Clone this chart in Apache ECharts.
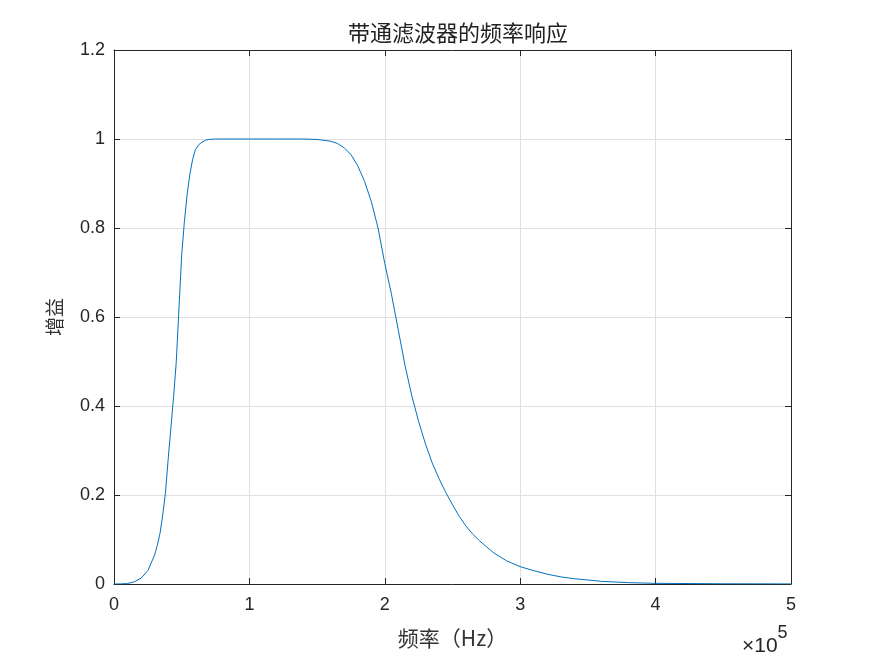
<!DOCTYPE html>
<html>
<head>
<meta charset="utf-8">
<script src="https://cdn.jsdelivr.net/npm/echarts@6/dist/echarts.min.js"></script>
<style>html,body{margin:0;padding:0;background:#fff;}#c{width:875px;height:656px;}</style>
</head>
<body>
<div id="c"></div>
<script>
// Frequency (units of 1e5 Hz) and gain
var freqs = [0, 0.05, 0.1, 0.15, 0.2, 0.25, 0.3, 0.32, 0.34, 0.36, 0.38, 0.4, 0.42, 0.44, 0.46, 0.48, 0.5, 0.52, 0.54, 0.56, 0.58, 0.6, 0.625, 0.65, 0.675, 0.7, 0.75, 0.8, 1.0, 1.2, 1.4, 1.5, 1.55, 1.6, 1.65, 1.7, 1.75, 1.8, 1.85, 1.9, 1.95, 2.0, 2.05, 2.1, 2.15, 2.2, 2.25, 2.3, 2.35, 2.4, 2.45, 2.5, 2.55, 2.6, 2.65, 2.7, 2.8, 2.9, 3.0, 3.1, 3.2, 3.3, 3.4, 3.6, 3.8, 4.0, 4.5, 5.0];
var gains = [0, 0.0002, 0.001, 0.005, 0.013, 0.03, 0.065, 0.087, 0.114, 0.155, 0.205, 0.28, 0.35, 0.42, 0.5, 0.62, 0.74, 0.815, 0.875, 0.92, 0.953, 0.975, 0.987, 0.993, 0.997, 0.999, 1.0, 1.0, 1.0, 1.0, 1.0, 0.999, 0.997, 0.995, 0.99, 0.98, 0.965, 0.94, 0.905, 0.86, 0.8, 0.72, 0.65, 0.57, 0.49, 0.422, 0.365, 0.315, 0.272, 0.237, 0.206, 0.178, 0.152, 0.13, 0.112, 0.097, 0.071, 0.052, 0.039, 0.03, 0.022, 0.016, 0.012, 0.006, 0.003, 0.0015, 0.0005, 0.0002];
var xTickValues = [0, 1, 2, 3, 4, 5];
var yTickValues = [0, 0.2, 0.4, 0.6, 0.8, 1, 1.2];
var titleText = '带通滤波器的频率响应';
var xName = '频率（Hz）';
var yName = '增益';

var scale = 1e5;
var data = freqs.map(function (f, i) { return [f * scale, gains[i]]; });

var chart = echarts.init(document.getElementById('c'));
var axisColor = '#262626';
var font = 'Liberation Sans, Arial, sans-serif';
var cjk = '"Noto Sans CJK SC", sans-serif';

chart.setOption({
  backgroundColor: '#ffffff',
  animation: false,
  title: {
    text: titleText,
    left: 453, top: 17, textAlign: 'center',
    textStyle: { fontFamily: cjk, fontSize: 22, fontWeight: 'normal', color: '#222' }
  },
  grid: { left: 114, right: 84, top: 50, bottom: 72, containLabel: false },
  xAxis: [{
    type: 'value', min: 0, max: 5 * scale, interval: scale,
    position: 'bottom',
    axisLine: { show: true, onZero: false, lineStyle: { color: axisColor, width: 1 } },
    axisTick: { show: true, inside: true, length: 6, lineStyle: { color: axisColor } },
    axisLabel: { color: axisColor, fontSize: 18, fontFamily: font, margin: 12,
      formatter: function (v) { return String(Math.round(v / scale)); } },
    splitLine: { show: true, lineStyle: { color: '#dfdfdf', width: 1 } },
    name: xName, nameLocation: 'middle', nameGap: 44,
    nameTextStyle: { fontFamily: cjk, fontSize: 21, color: '#333' }
  }, {
    type: 'value', min: 0, max: 5 * scale, interval: scale,
    position: 'top',
    axisLine: { show: true, onZero: false, lineStyle: { color: axisColor, width: 1 } },
    axisTick: { show: true, inside: true, length: 6, lineStyle: { color: axisColor } },
    axisLabel: { show: false }, splitLine: { show: false }
  }],
  yAxis: [{
    type: 'value', min: 0, max: 1.2, interval: 0.2,
    position: 'left',
    axisLine: { show: true, onZero: false, lineStyle: { color: axisColor, width: 1 } },
    axisTick: { show: true, inside: true, length: 6, lineStyle: { color: axisColor } },
    axisLabel: { color: axisColor, fontSize: 18, fontFamily: font, margin: 9,
      formatter: function (v) { return String(Math.round(v * 10) / 10); } },
    splitLine: { show: true, lineStyle: { color: '#dfdfdf', width: 1 } },
    name: yName, nameLocation: 'middle', nameGap: 50,
    nameTextStyle: { fontFamily: cjk, fontSize: 19, color: '#333' }
  }, {
    type: 'value', min: 0, max: 1.2, interval: 0.2,
    position: 'right',
    axisLine: { show: true, onZero: false, lineStyle: { color: axisColor, width: 1 } },
    axisTick: { show: true, inside: true, length: 6, lineStyle: { color: axisColor } },
    axisLabel: { show: false }, splitLine: { show: false }
  }],
  graphic: [{
    type: 'text', left: 742, top: 624,
    style: {
      text: '{a|×10}{b|5}',
      rich: {
        a: { fontFamily: font, fontSize: 21, fill: axisColor, padding: [12, 0, 0, 0] },
        b: { fontFamily: font, fontSize: 18, fill: axisColor, verticalAlign: 'top' }
      }
    }
  }],
  series: [{
    type: 'line', xAxisIndex: 0, yAxisIndex: 0,
    data: data, showSymbol: false, smooth: false,
    lineStyle: { color: '#0072BD', width: 1 },
    itemStyle: { color: '#0072BD' }
  }]
});
</script>
</body>
</html>
